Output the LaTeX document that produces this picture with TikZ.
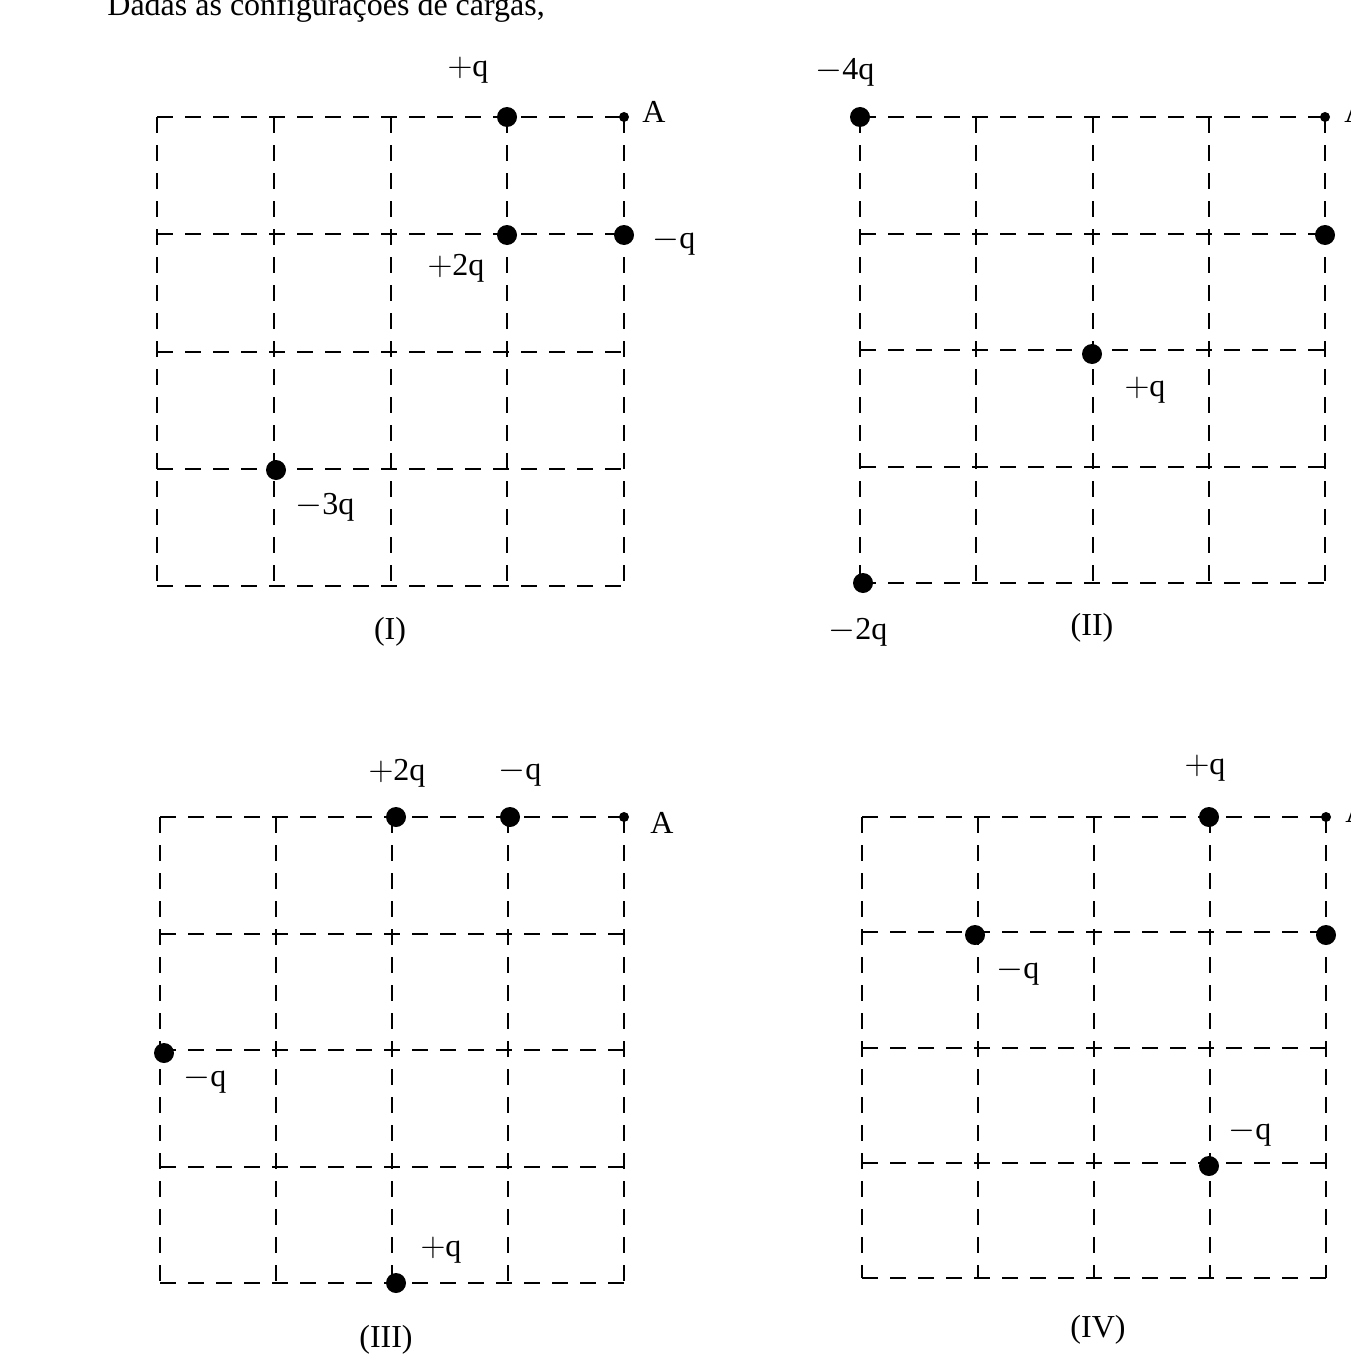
\documentclass[tikz,border=0pt]{standalone}
\usepackage{fontspec}
\setmainfont{Liberation Serif}
\begin{document}
\begin{tikzpicture}[x=0.5pt,y=-0.5pt,
  grid/.style={line width=1pt,dash pattern=on 8pt off 6pt},
  charge/.style={circle,fill=black,inner sep=0pt,minimum size=10pt},
  pt/.style={circle,fill=black,inner sep=0pt,minimum size=5pt},
  lab/.style={inner sep=1pt,font=\fontsize{16}{19}\selectfont}]
\useasboundingbox (0,0) rectangle (1350,1370);
\clip (0,0) rectangle (1350,1370);
\node[lab,anchor=west] (title) at (105,8) {Dadas as configurações de cargas,};
\foreach \ox/\oy/\w/\h in {157/117/467/469, 860/117/465/466, 160/817/464/466, 862/817/464/461}{
  \foreach \i in {0,...,4}{
    \draw[grid] ({\ox+\i*\w/4},\oy) -- ({\ox+\i*\w/4},{\oy+\h});
    \draw[grid] (\ox,{\oy+\i*\h/4}) -- ({\ox+\w},{\oy+\i*\h/4});
  }
}
% I
\node[charge] (a1) at (507,117) {}; \node[lab] at (468,70) {$+$q};
\node[pt] (a2) at (624,117) {}; \node[lab] at (654,112) {A};
\node[charge] (a3) at (507,235) {}; \node[lab] at (456,268) {$+$2q};
\node[charge] (a4) at (624,235) {}; \node[lab] at (674,242) {$-$q};
\node[charge] (a5) at (276,470) {}; \node[lab] at (325,507) {$-$3q};
\node[lab] at (390,632) {(I)};
% II
\node[charge] (b1) at (860,117) {}; \node[lab] at (845,72) {$-$4q};
\node[pt] (b2) at (1325,117) {}; \node[lab] at (1356,112) {A};
\node[charge] (b3) at (1325,235) {}; \node[lab] at (1372,242) {$-$q};
\node[charge] (b4) at (1092,354) {}; \node[lab] at (1145,390) {$+$q};
\node[charge] (b5) at (863,583) {}; \node[lab] at (858,632) {$-$2q};
\node[lab] at (1092,628) {(II)};
% III
\node[charge] (c1) at (396,817) {}; \node[lab] at (397,773) {$+$2q};
\node[charge] (c2) at (510,817) {}; \node[lab] at (520,773) {$-$q};
\node[pt] (c3) at (624,817) {}; \node[lab] at (662,823) {A};
\node[charge] (c4) at (164,1053) {}; \node[lab] at (205,1080) {$-$q};
\node[charge] (c5) at (396,1283) {}; \node[lab] at (441,1250) {$+$q};
\node[lab] at (386,1340) {(III)};
% IV
\node[charge] (d1) at (1209,817) {}; \node[lab] at (1205,768) {$+$q};
\node[pt] (d2) at (1326,817) {}; \node[lab] at (1357,812) {A};
\node[charge] (d3) at (975,935) {}; \node[lab] at (1018,972) {$-$q};
\node[charge] (d4) at (1326,935) {}; \node[lab] at (1372,942) {$-$q};
\node[charge] (d5) at (1209,1166) {}; \node[lab] at (1250,1133) {$-$q};
\node[lab] at (1098,1330) {(IV)};
\end{tikzpicture}
\end{document}
